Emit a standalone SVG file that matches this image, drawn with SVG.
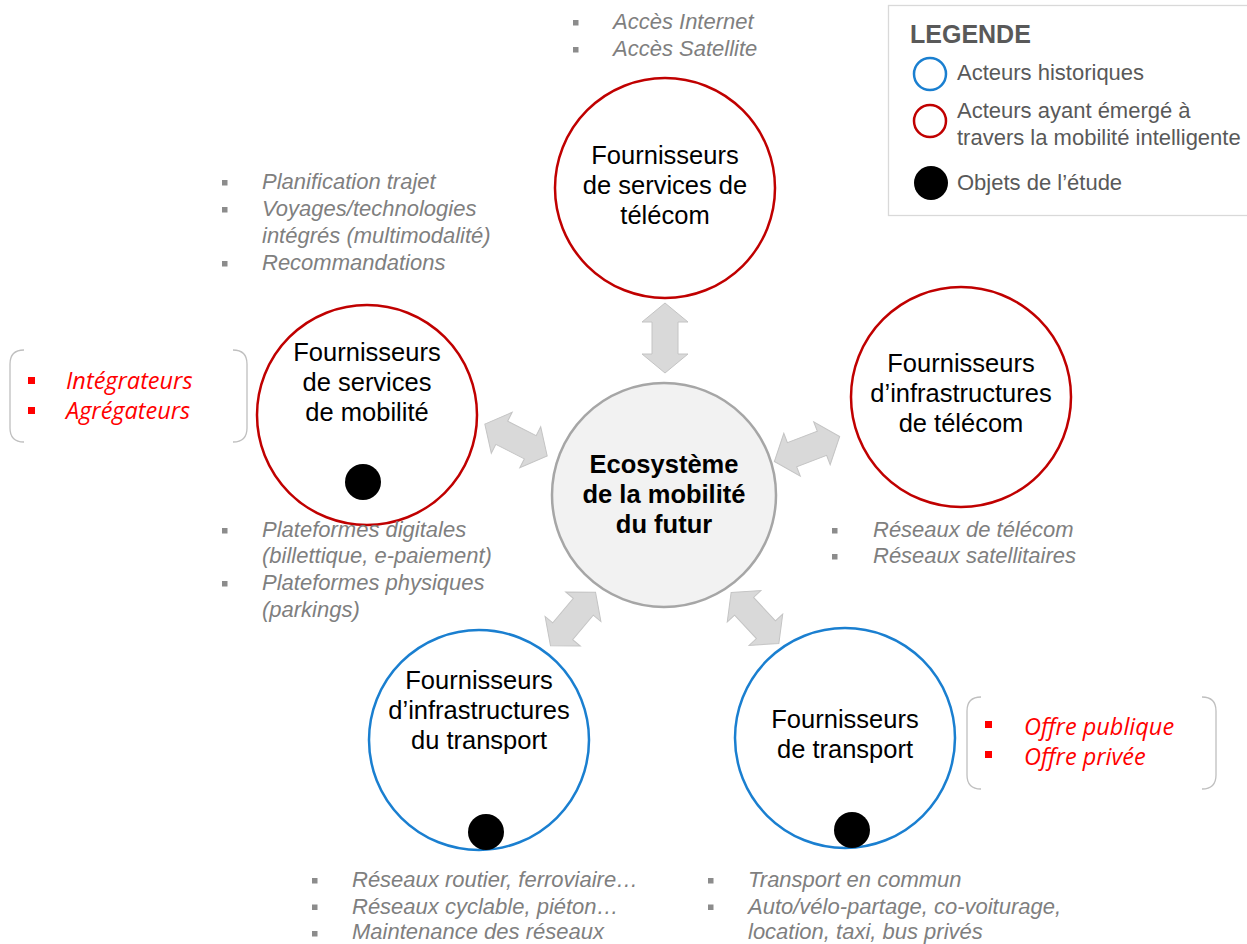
<svg xmlns="http://www.w3.org/2000/svg" width="1247" height="944" viewBox="0 0 1247 944">
<style>
.node{fill:#fff;stroke-width:2.5}
.red{stroke:#c00000}
.blue{stroke:#1a7fd0}
.nt{font-family:"Liberation Sans",Arial,sans-serif;font-size:25.5px;fill:#000;text-anchor:middle}
.ct{font-family:"Liberation Sans",Arial,sans-serif;font-size:25.5px;font-weight:bold;fill:#000;text-anchor:middle}
.bt{font-family:"Liberation Sans",Arial,sans-serif;font-size:22px;font-style:italic;fill:#7f7f7f}
.bs{fill:#8c8c8c}
.rt{font-family:"Open Sans","Liberation Sans",sans-serif;font-size:23.5px;font-style:italic;fill:#ff0000}
.rs{fill:#ff0000}
.lt{font-family:"Liberation Sans",Arial,sans-serif;font-size:22px;fill:#595959}
.arr{fill:#d9d9d9;stroke:#c4c4c4;stroke-width:1}
.brk{fill:none;stroke:#bfbfbf;stroke-width:1.3}
</style>
<defs>
<path id="da" d="M -35 0 L -16 -23 L -16 -13 L 16 -13 L 16 -23 L 35 0 L 16 23 L 16 13 L -16 13 L -16 23 Z"/>
</defs>
<rect width="1247" height="944" fill="#fff"/>

<g id="connectors">
<use href="#da" class="arr" transform="translate(665,338) rotate(90)"/>
<use href="#da" class="arr" transform="translate(516,440) rotate(27)"/>
<use href="#da" class="arr" transform="translate(807,449) rotate(-21)"/>
<use href="#da" class="arr" transform="translate(573,619) rotate(130)"/>
<use href="#da" class="arr" transform="translate(755,618) rotate(47)"/>
</g>

<g id="center">
<circle cx="664" cy="495" r="112" fill="#f2f2f2" stroke="#a6a6a6" stroke-width="2.5"/>
<text class="ct" x="664" y="473">Ecosystème</text>
<text class="ct" x="664" y="503">de la mobilité</text>
<text class="ct" x="664" y="533">du futur</text>
</g>

<g id="telecom-services">
<circle class="node red" cx="665" cy="188" r="110"/>
<text class="nt" x="665" y="164">Fournisseurs</text>
<text class="nt" x="665" y="194">de services de</text>
<text class="nt" x="665" y="224">télécom</text>
<rect class="bs" x="573" y="20" width="5.5" height="5.5"/>
<rect class="bs" x="573" y="47" width="5.5" height="5.5"/>
<text class="bt" x="613" y="29">Accès Internet</text>
<text class="bt" x="613" y="56">Accès Satellite</text>
</g>

<g id="mobility-services">
<circle class="node red" cx="367" cy="415" r="110"/>
<text class="nt" x="367" y="361">Fournisseurs</text>
<text class="nt" x="367" y="391">de services</text>
<text class="nt" x="367" y="421">de mobilité</text>
<circle cx="363" cy="482" r="18" fill="#000"/>
<rect class="bs" x="222" y="180" width="5.5" height="5.5"/>
<rect class="bs" x="222" y="207" width="5.5" height="5.5"/>
<rect class="bs" x="222" y="261" width="5.5" height="5.5"/>
<text class="bt" x="262" y="189">Planification trajet</text>
<text class="bt" x="262" y="216">Voyages/technologies</text>
<text class="bt" x="262" y="243">intégrés (multimodalité)</text>
<text class="bt" x="262" y="270">Recommandations</text>
<rect class="bs" x="222" y="528" width="5.5" height="5.5"/>
<rect class="bs" x="222" y="581" width="5.5" height="5.5"/>
<text class="bt" x="262" y="537">Plateformes digitales</text>
<text class="bt" x="262" y="563">(billettique, e-paiement)</text>
<text class="bt" x="262" y="590">Plateformes physiques</text>
<text class="bt" x="262" y="617">(parkings)</text>
<path class="brk" d="M 24 350 Q 10 350 10 364 L 10 428 Q 10 442 24 442 M 233 350 Q 247 350 247 364 L 247 428 Q 247 442 233 442"/>
<rect class="rs" x="28" y="377" width="7" height="7"/>
<rect class="rs" x="28" y="407" width="7" height="7"/>
<text class="rt" x="66" y="389">Intégrateurs</text>
<text class="rt" x="66" y="419">Agrégateurs</text>
</g>

<g id="telecom-infra">
<circle class="node red" cx="961" cy="397" r="110"/>
<text class="nt" x="961" y="372">Fournisseurs</text>
<text class="nt" x="961" y="402">d’infrastructures</text>
<text class="nt" x="961" y="432">de télécom</text>
<rect class="bs" x="832" y="528" width="5.5" height="5.5"/>
<rect class="bs" x="832" y="554" width="5.5" height="5.5"/>
<text class="bt" x="873" y="537">Réseaux de télécom</text>
<text class="bt" x="873" y="563">Réseaux satellitaires</text>
</g>

<g id="transport-infra">
<circle class="node blue" cx="479" cy="740" r="110"/>
<text class="nt" x="479" y="689">Fournisseurs</text>
<text class="nt" x="479" y="719">d’infrastructures</text>
<text class="nt" x="479" y="749">du transport</text>
<circle cx="486" cy="832" r="18" fill="#000"/>
<rect class="bs" x="312" y="878" width="5.5" height="5.5"/>
<rect class="bs" x="312" y="904.5" width="5.5" height="5.5"/>
<rect class="bs" x="312" y="931" width="5.5" height="5.5"/>
<text class="bt" x="352" y="887">Réseaux routier, ferroviaire…</text>
<text class="bt" x="352" y="913.5">Réseaux cyclable, piéton…</text>
<text class="bt" x="352" y="939">Maintenance des réseaux</text>
</g>

<g id="transport">
<circle class="node blue" cx="845" cy="738" r="110"/>
<text class="nt" x="845" y="728">Fournisseurs</text>
<text class="nt" x="845" y="758">de transport</text>
<circle cx="852" cy="830" r="18" fill="#000"/>
<rect class="bs" x="708" y="878" width="5.5" height="5.5"/>
<rect class="bs" x="708" y="904.5" width="5.5" height="5.5"/>
<text class="bt" x="748" y="887">Transport en commun</text>
<text class="bt" x="748" y="913.5">Auto/vélo-partage, co-voiturage,</text>
<text class="bt" x="748" y="939">location, taxi, bus privés</text>
<path class="brk" d="M 981 697 Q 967 697 967 711 L 967 775 Q 967 789 981 789 M 1202 697 Q 1216 697 1216 711 L 1216 775 Q 1216 789 1202 789"/>
<rect class="rs" x="985" y="721" width="7" height="7"/>
<rect class="rs" x="985" y="751" width="7" height="7"/>
<text class="rt" x="1024" y="735">Offre publique</text>
<text class="rt" x="1024" y="765">Offre privée</text>
</g>

<g id="legend">
<rect x="888.5" y="5.5" width="370" height="210" fill="#fff" stroke="#d9d9d9" stroke-width="1.3"/>
<text x="910" y="43" font-family="Liberation Sans,Arial,sans-serif" font-size="25" font-weight="bold" fill="#595959">LEGENDE</text>
<circle cx="930" cy="74" r="16" fill="#fff" stroke="#1a7fd0" stroke-width="2.5"/>
<circle cx="930" cy="121" r="16" fill="#fff" stroke="#c00000" stroke-width="2.5"/>
<circle cx="931" cy="183" r="17" fill="#000"/>
<text class="lt" x="957" y="80">Acteurs historiques</text>
<text class="lt" x="957" y="118">Acteurs ayant émergé à</text>
<text class="lt" x="957" y="145">travers la mobilité intelligente</text>
<text class="lt" x="957" y="190">Objets de l’étude</text>
</g>
</svg>
